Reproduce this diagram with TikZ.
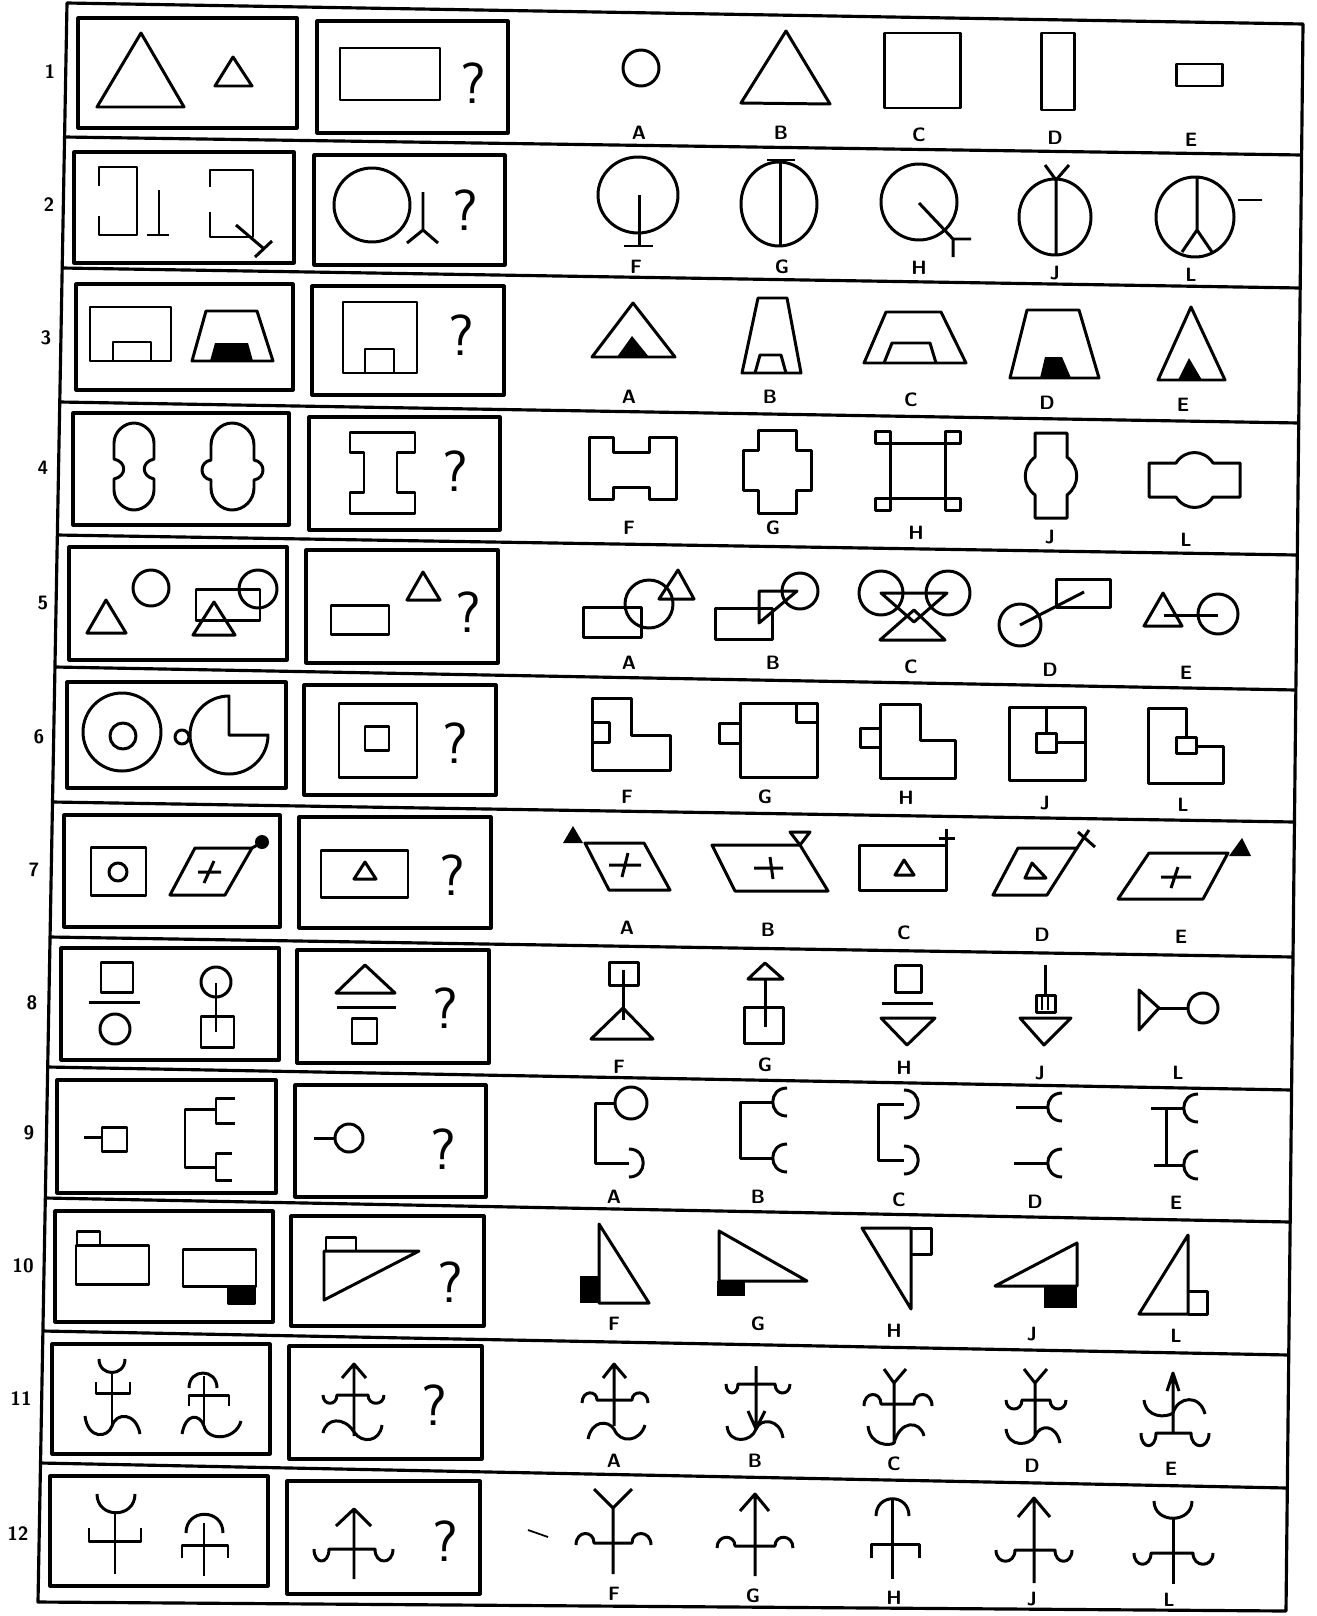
\documentclass[tikz,border=0pt]{standalone}
\usepackage{tikz}
\begin{document}
\begin{tikzpicture}[x=0.02cm,y=-0.02cm,line join=round,
  fig/.style={line width=1.7pt},
  frameline/.style={line width=1.8pt},
  card/.style={line width=1.8pt},
  lbl/.style={font=\sffamily\bfseries\fontsize{11}{13}\selectfont, inner sep=0pt},
  rownum/.style={font=\sffamily\bfseries\fontsize{11}{13}\selectfont, inner sep=0pt},
  ask/.style={font=\sffamily\fontsize{33}{33}\selectfont, inner sep=0pt}]
\useasboundingbox (0,0) rectangle (1316,1616);

\draw[frameline] (67,3) -- (1303,24) -- (1286,1611) -- (38,1602) -- cycle;
\draw[frameline] (64.6,137) -- (1301.6,155);
\draw[frameline] (62.2,268) -- (1300.2,288);
\draw[frameline] (59.8,402) -- (1298.7,423);
\draw[frameline] (57.3,535) -- (1297.3,555);
\draw[frameline] (54.9,667) -- (1295.9,690);
\draw[frameline] (52.5,802) -- (1294.4,822);
\draw[frameline] (50,937) -- (1293,957);
\draw[frameline] (47.7,1067) -- (1291.6,1090);
\draw[frameline] (45.3,1198) -- (1290.2,1222);
\draw[frameline] (42.9,1331) -- (1288.7,1355);
\draw[frameline] (40.5,1463) -- (1287.3,1488);

\node[rownum] (n1) at (50,72) {1};
\node[rownum] (n2) at (49,205) {2};
\node[rownum] (n3) at (46,338) {3};
\node[rownum] (n4) at (43,468) {4};
\node[rownum] (n5) at (43,603) {5};
\node[rownum] (n6) at (39,737) {6};
\node[rownum] (n7) at (34,870) {7};
\node[rownum] (n8) at (32,1003) {8};
\node[rownum] (n9) at (29,1133) {9};
\node[rownum] (n10) at (23,1266) {10};
\node[rownum] (n11) at (21,1399) {11};
\node[rownum] (n12) at (18,1534) {12};

\draw[card] (78,18) rectangle (297,128);   \draw[card] (317,21) rectangle (508,133);
\draw[card] (74,152) rectangle (294,263);  \draw[card] (314,155) rectangle (505,265);
\draw[card] (76,284) rectangle (293,390);  \draw[card] (312,286) rectangle (504,395);
\draw[card] (73,413) rectangle (289,525);  \draw[card] (309,417) rectangle (500,530);
\draw[card] (69,547) rectangle (287,660);  \draw[card] (306,550) rectangle (498,663);
\draw[card] (67,682) rectangle (286,788);  \draw[card] (304,685) rectangle (496,795);
\draw[card] (64,815) rectangle (280,927);  \draw[card] (299,817) rectangle (491,928);
\draw[card] (61,948) rectangle (279,1060); \draw[card] (297,950) rectangle (489,1063);
\draw[card] (57,1080) rectangle (276,1193); \draw[card] (295,1085) rectangle (486,1197);
\draw[card] (55,1211) rectangle (273,1322); \draw[card] (291,1216) rectangle (484,1326);
\draw[card] (52,1344) rectangle (270,1454); \draw[card] (289,1346) rectangle (482,1459);
\draw[card] (50,1476) rectangle (268,1586); \draw[card] (287,1481) rectangle (480,1594);

\node[ask] (q1) at (473,83) {?};
\node[ask] (q2) at (465,210) {?};
\node[ask] (q3) at (461,335) {?};
\node[ask] (q4) at (455,471) {?};
\node[ask] (q5) at (468,612) {?};
\node[ask] (q6) at (455,743) {?};
\node[ask] (q7) at (452,875) {?};
\node[ask] (q8) at (445,1008) {?};
\node[ask] (q9) at (443,1149) {?};
\node[ask] (q10) at (450,1282) {?};
\node[ask] (q11) at (434,1405) {?};
\node[ask] (q12) at (445,1541) {?};

\draw[fig] (141,33) -- (97,107) -- (184,107) -- cycle;
\draw[fig] (233,57) -- (215,86) -- (252,86) -- cycle;
\draw[fig] (340,48) rectangle (440,100);
\draw[fig] (641,68) circle[radius=18];
\draw[fig] (786,31) -- (741,103) -- (830,104) -- cycle;
\draw[fig] (884,33) rectangle (960,108);
\draw[fig] (1041,33) rectangle (1074,110);
\draw[fig] (1176,64) rectangle (1222,86);
\node[lbl] (l1a) at (639,133) {A}; \node[lbl] (l1b) at (781,133) {B};
\node[lbl] (l1c) at (919,135) {C}; \node[lbl] (l1d) at (1055,138) {D};
\node[lbl] (l1e) at (1191,140) {E};

\draw[fig] (99,186) -- (99,167) -- (137,167) -- (137,235) -- (99,235) -- (99,216);
\draw[fig] (159,190) -- (159,235) (147,235) -- (169,235);
\draw[fig] (210,187) -- (210,170) -- (253,170) -- (253,237) -- (210,237) -- (210,212);
\draw[fig] (236,225) -- (263,248) (255,257) -- (272,241);
\draw[fig] (372,205) ellipse[x radius=38, y radius=37];
\draw[fig] (423,192) -- (423,230) -- (407,243) (423,230) -- (438,243);
\draw[fig] (638,195) ellipse[x radius=40, y radius=38];
\draw[fig] (639,195) -- (639,246) (624,246) -- (653,246);
\draw[fig] (779,204) ellipse[x radius=38, y radius=42];
\draw[fig] (780,160) -- (780,246) (767,160) -- (795,160);
\draw[fig] (919,202) ellipse[x radius=38, y radius=38];
\draw[fig] (919,203) -- (953,239) -- (971,239) (953,239) -- (953,257);
\draw[fig] (1055,217) ellipse[x radius=36, y radius=38];
\draw[fig] (1056,179) -- (1056,255) (1045,165) -- (1056,180) -- (1069,165);
\draw[fig] (1195,217) ellipse[x radius=39, y radius=40];
\draw[fig] (1197,177) -- (1197,230) -- (1182,252) (1197,230) -- (1212,252);
\draw[line width=1pt] (1238,200) -- (1262,200);
\node[lbl] (l2f) at (636,267) {F}; \node[lbl] (l2g) at (782,267) {G};
\node[lbl] (l2h) at (919,268) {H}; \node[lbl] (l2j) at (1055,273) {J};
\node[lbl] (l2l) at (1191,275) {L};

\draw[fig] (90,307) rectangle (171,361);
\draw[fig] (113,361) -- (113,342) -- (151,342) -- (151,361);
\draw[fig] (192,361) -- (206,311) -- (257,311) -- (273,361) -- cycle;
\fill (210,361) -- (215,343) -- (248,343) -- (253,361) -- cycle;
\draw[fig] (343,302) rectangle (417,373);
\draw[fig] (365,373) -- (365,349) -- (394,349) -- (394,373);
\draw[fig] (633,303) -- (592,357) -- (675,357) -- cycle;
\fill (632,336) -- (617,357) -- (649,357) -- cycle;
\draw[fig] (758,298) -- (787,298) -- (801,373) -- (742,373) -- cycle;
\draw[fig] (755,373) -- (760,355) -- (781,355) -- (786,373);
\draw[fig] (886,312) -- (941,312) -- (966,363) -- (864,363) -- cycle;
\draw[fig] (884,363) -- (892,343) -- (930,343) -- (936,363);
\draw[fig] (1027,310) -- (1079,310) -- (1099,378) -- (1010,378) -- cycle;
\fill (1040,378) -- (1045,357) -- (1062,357) -- (1071,378) -- cycle;
\draw[fig] (1191,307) -- (1158,380) -- (1225,380) -- cycle;
\fill (1189,358) -- (1178,380) -- (1202,380) -- cycle;
\node[lbl] (l3a) at (629,397) {A}; \node[lbl] (l3b) at (770,397) {B};
\node[lbl] (l3c) at (911,400) {C}; \node[lbl] (l3d) at (1047,403) {D};
\node[lbl] (l3e) at (1183,405) {E};

\draw[fig] (114,459) -- (114,443) .. controls (114,432) and (124,423) .. (134,423)
  .. controls (144,423) and (154,432) .. (154,443) -- (154,459)
  .. controls (141,462) and (141,476) .. (154,479) -- (154,490)
  .. controls (154,501) and (144,510) .. (134,510) .. controls (124,510) and (114,501) .. (114,490)
  -- (114,479) .. controls (127,476) and (127,462) .. (114,459) -- cycle;
\draw[fig] (211,460) -- (211,445) .. controls (211,433) and (221,423) .. (232,423)
  .. controls (244,423) and (254,433) .. (254,445) -- (254,460)
  .. controls (266,462) and (266,478) .. (254,480) -- (254,488)
  .. controls (254,500) and (244,510) .. (232,510) .. controls (221,510) and (211,500) .. (211,488)
  -- (211,480) .. controls (199,478) and (199,462) .. (211,460) -- cycle;
\draw[fig] (350,432) -- (415,432) -- (415,452) -- (397,452) -- (397,492) -- (415,492) -- (415,513)
  -- (350,513) -- (350,492) -- (364,492) -- (364,452) -- (350,452) -- cycle;
\draw[fig] (589,437) -- (613,437) -- (613,452) -- (649,452) -- (649,437) -- (676,437) -- (676,499)
  -- (649,499) -- (649,487) -- (613,487) -- (613,499) -- (589,499) -- cycle;
\draw[fig] (758,430) -- (796,430) -- (796,450) -- (811,450) -- (811,490) -- (796,490) -- (796,513)
  -- (758,513) -- (758,490) -- (743,490) -- (743,450) -- (758,450) -- cycle;
\draw[fig] (890,443) rectangle (945,498) (875,431) rectangle (890,443) (945,431) rectangle (960,443)
  (875,498) rectangle (890,510) (945,498) rectangle (960,510);
\draw[fig] (1035,433) -- (1067,433) -- (1067,457) .. controls (1080,467) and (1080,485) .. (1067,495)
  -- (1067,518) -- (1035,518) -- (1035,495) .. controls (1022,485) and (1022,467) .. (1035,457) -- cycle;
\draw[fig] (1149,463) -- (1176,463) .. controls (1185,449) and (1204,449) .. (1213,463) -- (1240,463)
  -- (1240,497) -- (1213,497) .. controls (1204,511) and (1185,511) .. (1176,497) -- (1149,497) -- cycle;
\node[lbl] (l4f) at (629,528) {F}; \node[lbl] (l4g) at (773,528) {G};
\node[lbl] (l4h) at (916,533) {H}; \node[lbl] (l4j) at (1050,537) {J};
\node[lbl] (l4l) at (1186,540) {L};

\draw[fig] (106,600) -- (87,633) -- (126,633) -- cycle;
\draw[fig] (151,588) circle[radius=18];
\draw[fig] (196,589) rectangle (260,620);
\draw[fig] (258,589) circle[radius=19];
\draw[fig] (214,602) -- (193,635) -- (235,635) -- cycle;
\draw[fig] (331,605) rectangle (389,634);
\draw[fig] (423,572) -- (407,600) -- (440,600) -- cycle;
\draw[fig] (583,607) rectangle (641,637);
\draw[fig] (649,604) circle[radius=24];
\draw[fig] (678,570) -- (659,599) -- (694,599) -- cycle;
\draw[fig] (715,608) rectangle (772,639);
\draw[fig] (759,591) -- (797,591) -- (759,623) -- cycle;
\draw[fig] (800,591) circle[radius=18];
\draw[fig] (881,593) circle[radius=22];
\draw[fig] (948,593) circle[radius=22];
\draw[fig] (881,593) -- (947,593) -- (914,622) -- cycle;
\draw[fig] (914,610) -- (880,640) -- (945,640) -- cycle;
\draw[fig] (1020,625) circle[radius=21];
\draw[fig] (1020,625) -- (1084,592);
\draw[fig] (1056,579) rectangle (1110,607);
\draw[fig] (1163,593) -- (1144,626) -- (1182,626) -- cycle;
\draw[fig] (1218,614) circle[radius=20];
\draw[fig] (1164,615) -- (1218,615);
\node[lbl] (l5a) at (629,663) {A}; \node[lbl] (l5b) at (773,663) {B};
\node[lbl] (l5c) at (911,667) {C}; \node[lbl] (l5d) at (1050,670) {D};
\node[lbl] (l5e) at (1186,673) {E};

\draw[fig] (122,732) circle[radius=39];
\draw[fig] (123,736) circle[radius=13];
\draw[fig] (182,737) circle[radius=7];
\draw[fig] (229,735) -- (229,696) .. controls (207.5,696) and (190,713.5) .. (190,735)
  .. controls (190,756.5) and (207.5,774) .. (229,774) .. controls (250.5,774) and (268,756.5) .. (268,735) -- cycle;
\draw[fig] (339,703) rectangle (417,777);
\draw[fig] (365,726) rectangle (389,750);
\draw[fig] (592,698) -- (631,698) -- (631,735) -- (670,735) -- (670,770) -- (592,770) -- cycle;
\draw[fig] (592,722) rectangle (609,742);
\draw[fig] (740,703) rectangle (817,777);
\draw[fig] (719,723) rectangle (740,743);
\draw[fig] (796,703) rectangle (817,722);
\draw[fig] (880,704) -- (920,704) -- (920,740) -- (955,740) -- (955,778) -- (880,778) -- cycle;
\draw[fig] (860,728) rectangle (880,747);
\draw[fig] (1009,707) rectangle (1085,780);
\draw[fig] (1036,733) rectangle (1056,752);
\draw[fig] (1046,707) -- (1046,733) (1056,742) -- (1085,742);
\draw[fig] (1186,737) -- (1186,708) -- (1148,708) -- (1148,783) -- (1223,783) -- (1223,746) -- (1196,746);
\draw[fig] (1176,737) rectangle (1196,753);
\node[lbl] (l6f) at (627,797) {F}; \node[lbl] (l6g) at (765,797) {G};
\node[lbl] (l6h) at (906,798) {H}; \node[lbl] (l6j) at (1045,803) {J};
\node[lbl] (l6l) at (1183,805) {L};

\draw[fig] (91,847) rectangle (146,895);
\draw[fig] (118,872) circle[radius=9];
\draw[fig] (195,848) -- (252,848) -- (225,895) -- (170,895) -- cycle;
\draw[fig] (198,872) -- (221,872) (214,861) -- (204,883);
\draw[fig] (252,848) -- (261,843);
\fill (262,842) circle[radius=7];
\draw[fig] (321,850) rectangle (408,897);
\draw[fig] (365,862) -- (354,879) -- (376,879) -- cycle;
\draw[fig] (585,843) -- (644,843) -- (670,890) -- (609,890) -- cycle;
\fill (573,826) -- (563,843) -- (583,843) -- cycle;
\draw[fig] (609,865) -- (641,865) (628,853) -- (622,877);
\draw[fig] (712,845) -- (800,845) -- (828,891) -- (735,891) -- cycle;
\draw[fig] (790,832) -- (810,832) -- (800,845) -- cycle;
\draw[fig] (754,868) -- (783,868) (770,857) -- (773,879);
\draw[fig] (859,845) rectangle (946,890);
\draw[fig] (904,860) -- (895,875) -- (914,875) -- cycle;
\draw[fig] (946,845) -- (946,829) (939,838) -- (955,838);
\draw[fig] (1018,848) -- (1077,848) -- (1047,895) -- (993,895) -- cycle;
\draw[fig] (1077,848) -- (1089,830) (1078,832) -- (1095,847);
\draw[fig] (1032,863) -- (1025,878) -- (1046,878) -- cycle;
\draw[fig] (1149,853) -- (1228,853) -- (1203,899) -- (1118,899) -- cycle;
\fill (1242,838) -- (1229,856) -- (1251,856) -- cycle;
\draw[fig] (1161,877) -- (1191,877) (1178,867) -- (1171,888);
\node[lbl] (l7a) at (627,928) {A}; \node[lbl] (l7b) at (768,930) {B};
\node[lbl] (l7c) at (904,933) {C}; \node[lbl] (l7d) at (1042,935) {D};
\node[lbl] (l7e) at (1181,937) {E};

\draw[fig] (101,962) rectangle (133,992);
\draw[fig] (89,1002) -- (140,1002);
\draw[fig] (115,1029) circle[radius=15];
\draw[fig] (216,982) circle[radius=15];
\draw[fig] (201,1016) rectangle (234,1047);
\draw[fig] (216,983) -- (216,1032);
\draw[fig] (365,965) -- (336,993) -- (395,993) -- cycle;
\draw[fig] (337,1007) -- (396,1007);
\draw[fig] (352,1018) rectangle (377,1043);
\draw[fig] (609,962) rectangle (638,985);
\draw[fig] (623,970) -- (623,1020);
\draw[fig] (623,1008) -- (591,1039) -- (653,1039) -- cycle;
\draw[fig] (765,963) -- (748,979) -- (783,979) -- cycle;
\draw[fig] (765,979) -- (765,1027);
\draw[fig] (744,1007) rectangle (783,1043);
\draw[fig] (895,965) rectangle (921,992);
\draw[fig] (882,1003) -- (933,1003);
\draw[fig] (881,1018) -- (935,1018) -- (907,1045) -- cycle;
\draw[fig] (1045,965) -- (1045,995);
\draw[fig] (1036,995) rectangle (1055,1012);
\draw[line width=1pt] (1042,997) -- (1042,1010) (1048,997) -- (1048,1010);
\draw[fig] (1020,1018) -- (1071,1018) -- (1044,1045) -- cycle;
\draw[fig] (1139,990) -- (1139,1030) -- (1159,1008) -- cycle;
\draw[fig] (1159,1008) -- (1188,1008);
\draw[fig] (1203,1008) circle[radius=15];
\node[lbl] (l8f) at (619,1067) {F}; \node[lbl] (l8g) at (765,1065) {G};
\node[lbl] (l8h) at (904,1068) {H}; \node[lbl] (l8j) at (1040,1073) {J};
\node[lbl] (l8l) at (1178,1073) {L};

\draw[fig] (84,1137) -- (102,1137);
\draw[fig] (102,1127) rectangle (127,1151);
\draw[fig] (216,1109) -- (185,1109) -- (185,1167) -- (216,1167);
\draw[fig] (235,1098) -- (216,1098) -- (216,1123) -- (235,1123);
\draw[fig] (232,1153) -- (216,1153) -- (216,1180) -- (232,1180);
\draw[fig] (314,1138) -- (335,1138);
\draw[fig] (349,1138) circle[radius=14];
\draw[fig] (631,1103) circle[radius=16];
\draw[fig] (615,1103) -- (595,1103) -- (595,1163) -- (629,1163);
\draw[fig] (629,1149) .. controls (648,1149) and (648,1177) .. (629,1177);
\draw[fig] (773,1102) -- (740,1102) -- (740,1158) -- (773,1158);
\draw[fig] (787,1088) .. controls (768,1088) and (768,1116) .. (787,1116);
\draw[fig] (787,1144) .. controls (768,1144) and (768,1172) .. (787,1172);
\draw[fig] (904,1104) -- (878,1104) -- (878,1160) -- (904,1160);
\draw[fig] (904,1090) .. controls (923,1090) and (923,1118) .. (904,1118);
\draw[fig] (904,1146) .. controls (923,1146) and (923,1174) .. (904,1174);
\draw[fig] (1016,1107) -- (1048,1107) (1014,1163) -- (1048,1163);
\draw[fig] (1062,1093) .. controls (1043,1093) and (1043,1121) .. (1062,1121);
\draw[fig] (1062,1149) .. controls (1043,1149) and (1043,1177) .. (1062,1177);
\draw[fig] (1166,1108) -- (1166,1165) (1151,1108) -- (1184,1108) (1154,1165) -- (1184,1165);
\draw[fig] (1198,1094) .. controls (1179,1094) and (1179,1122) .. (1198,1122);
\draw[fig] (1198,1151) .. controls (1179,1151) and (1179,1179) .. (1198,1179);
\node[lbl] (l9a) at (614,1197) {A}; \node[lbl] (l9b) at (758,1197) {B};
\node[lbl] (l9c) at (899,1200) {C}; \node[lbl] (l9d) at (1035,1202) {D};
\node[lbl] (l9e) at (1176,1203) {E};

\draw[fig] (76,1245) rectangle (149,1284);
\draw[fig] (77,1245) -- (77,1231) -- (100,1231) -- (100,1245);
\draw[fig] (183,1249) rectangle (256,1286);
\filldraw[fig] (228,1286) rectangle (255,1303);
\draw[fig] (324,1251) -- (419,1251) -- (324,1300) -- cycle;
\draw[fig] (326,1251) -- (326,1237) -- (356,1237) -- (356,1251);
\draw[fig] (599,1224) -- (649,1303) -- (599,1303) -- cycle;
\fill (580,1276) rectangle (599,1303);
\draw[fig] (719,1231) -- (807,1281) -- (719,1281) -- cycle;
\fill (717,1281) rectangle (745,1296);
\draw[fig] (862,1228) -- (911,1228) -- (911,1309) -- cycle;
\draw[fig] (911,1228) -- (931,1228) -- (931,1254) -- (911,1254);
\draw[fig] (1077,1243) -- (1077,1286) -- (995,1286) -- cycle;
\fill (1044,1286) rectangle (1077,1308);
\draw[fig] (1188,1235) -- (1188,1314) -- (1139,1314) -- cycle;
\draw[fig] (1188,1291) -- (1207,1291) -- (1207,1314) -- (1188,1314);
\node[lbl] (l10f) at (614,1324) {F}; \node[lbl] (l10g) at (758,1324) {G};
\node[lbl] (l10h) at (894,1331) {H}; \node[lbl] (l10j) at (1032,1334) {J};
\node[lbl] (l10l) at (1176,1336) {L};

\draw[fig] (112,1373) -- (112,1426);
\draw[fig] (99,1359) .. controls (99,1377) and (125,1377) .. (125,1359);
\draw[fig] (96,1382) -- (96,1393) -- (130,1393) -- (130,1382);
\draw[fig] (85,1416) .. controls (88,1440) and (108,1438) .. (112,1426) .. controls (116,1412) and (136,1412) .. (140,1434);
\draw[fig] (204,1376) -- (204,1428);
\draw[fig] (189,1388) .. controls (189,1368) and (217,1368) .. (217,1388);
\draw[fig] (189,1406) -- (189,1395) -- (229,1395) -- (229,1406);
\draw[fig] (182,1434) .. controls (186,1412) and (200,1414) .. (204,1426) .. controls (208,1442) and (236,1440) .. (241,1421);
\draw[fig] (354,1364) -- (354,1436) (342,1378) -- (354,1364) -- (366,1378);
\draw[fig] (323,1395) .. controls (323,1406) and (337,1406) .. (337,1395) -- (368,1395)
  .. controls (368,1406) and (384,1406) .. (384,1395);
\draw[fig] (323,1433) .. controls (326,1418) and (344,1416) .. (354,1432) .. controls (362,1444) and (380,1442) .. (382,1425);
\draw[fig] (614,1363) -- (614,1426) (603,1378) -- (614,1364) -- (626,1378);
\draw[fig] (582,1403) .. controls (582,1390) and (597,1390) .. (597,1400) -- (632,1400)
  .. controls (632,1390) and (648,1390) .. (648,1403);
\draw[fig] (588,1439) .. controls (592,1420) and (608,1420) .. (614,1429) .. controls (620,1444) and (640,1442) .. (645,1425);
\draw[fig] (756,1366) -- (756,1429) (748,1411) -- (756,1429) -- (765,1411);
\draw[fig] (726,1384) .. controls (726,1396) and (738,1396) .. (738,1384) -- (775,1384)
  .. controls (775,1396) and (790,1396) .. (790,1384);
\draw[fig] (727,1426) .. controls (729,1445) and (752,1442) .. (756,1429) .. controls (760,1418) and (780,1418) .. (783,1438);
\draw[fig] (894,1383) -- (894,1443) (884,1369) -- (894,1383) -- (906,1369);
\draw[fig] (864,1406) .. controls (864,1391) and (881,1391) .. (881,1404) -- (914,1404)
  .. controls (914,1391) and (932,1391) .. (932,1406);
\draw[fig] (868,1426) .. controls (870,1446) and (890,1446) .. (894,1443) .. controls (900,1420) and (920,1420) .. (924,1436);
\draw[fig] (1035,1383) -- (1035,1436) (1024,1369) -- (1035,1383) -- (1047,1369);
\draw[fig] (1006,1400) .. controls (1006,1412) and (1022,1412) .. (1022,1400) -- (1050,1400)
  .. controls (1050,1412) and (1066,1412) .. (1066,1400);
\draw[fig] (1006,1429) .. controls (1008,1448) and (1030,1446) .. (1035,1436) .. controls (1040,1424) and (1056,1424) .. (1060,1443);
\draw[fig] (1173,1373) -- (1173,1433) (1167,1391) -- (1173,1373) -- (1179,1391);
\draw[fig] (1144,1400) .. controls (1146,1418) and (1166,1418) .. (1173,1413) .. controls (1178,1396) and (1200,1394) .. (1205,1414);
\draw[fig] (1141,1433) .. controls (1141,1450) and (1156,1450) .. (1156,1433) -- (1191,1433)
  .. controls (1191,1450) and (1209,1450) .. (1209,1433);
\node[lbl] (l11a) at (614,1461) {A}; \node[lbl] (l11b) at (755,1461) {B};
\node[lbl] (l11c) at (894,1464) {C}; \node[lbl] (l11d) at (1032,1466) {D};
\node[lbl] (l11e) at (1171,1469) {E};

\draw[fig] (115,1513) -- (115,1574);
\draw[fig] (97,1494) .. controls (97,1519) and (135,1519) .. (135,1494);
\draw[fig] (89,1528) -- (89,1541) -- (141,1541) -- (141,1528);
\draw[fig] (204,1523) -- (204,1576);
\draw[fig] (186,1533) .. controls (186,1508) and (223,1508) .. (223,1533);
\draw[fig] (182,1558) -- (182,1545) -- (228,1545) -- (228,1558);
\draw[fig] (354,1509) -- (354,1579) (336,1526) -- (354,1509) -- (371,1526);
\draw[fig] (314,1549) .. controls (314,1565) and (329,1565) .. (329,1549) -- (375,1549)
  .. controls (375,1565) and (393,1565) .. (393,1549);
\draw[line width=1pt] (528,1530) -- (548,1537);
\draw[fig] (613,1508) -- (613,1574) (594,1489) -- (613,1508) -- (632,1489);
\draw[fig] (576,1545) .. controls (576,1530) and (594,1530) .. (594,1543) -- (632,1543)
  .. controls (632,1530) and (651,1530) .. (651,1545);
\draw[fig] (755,1494) -- (755,1576) (740,1511) -- (755,1494) -- (769,1511);
\draw[fig] (717,1548) .. controls (717,1534) and (735,1534) .. (735,1546) -- (775,1546)
  .. controls (775,1534) and (793,1534) .. (793,1548);
\draw[fig] (892,1498) -- (892,1579);
\draw[fig] (876,1516) .. controls (876,1493) and (909,1493) .. (909,1516);
\draw[fig] (871,1558) -- (871,1544) -- (919,1544) -- (919,1558);
\draw[fig] (1034,1498) -- (1034,1583) (1018,1517) -- (1034,1498) -- (1050,1517);
\draw[fig] (996,1550) .. controls (996,1565) and (1015,1565) .. (1015,1550) -- (1055,1550)
  .. controls (1055,1565) and (1072,1565) .. (1072,1550);
\draw[fig] (1173,1518) -- (1173,1584);
\draw[fig] (1154,1501) .. controls (1154,1524) and (1192,1524) .. (1192,1501);
\draw[fig] (1134,1553) .. controls (1134,1568) and (1151,1568) .. (1151,1553) -- (1193,1553)
  .. controls (1193,1568) and (1213,1568) .. (1213,1553);
\node[lbl] (l12f) at (614,1594) {F}; \node[lbl] (l12g) at (753,1596) {G};
\node[lbl] (l12h) at (894,1598) {H}; \node[lbl] (l12j) at (1032,1599) {J};
\node[lbl] (l12l) at (1169,1600) {L};
\end{tikzpicture}
\end{document}
